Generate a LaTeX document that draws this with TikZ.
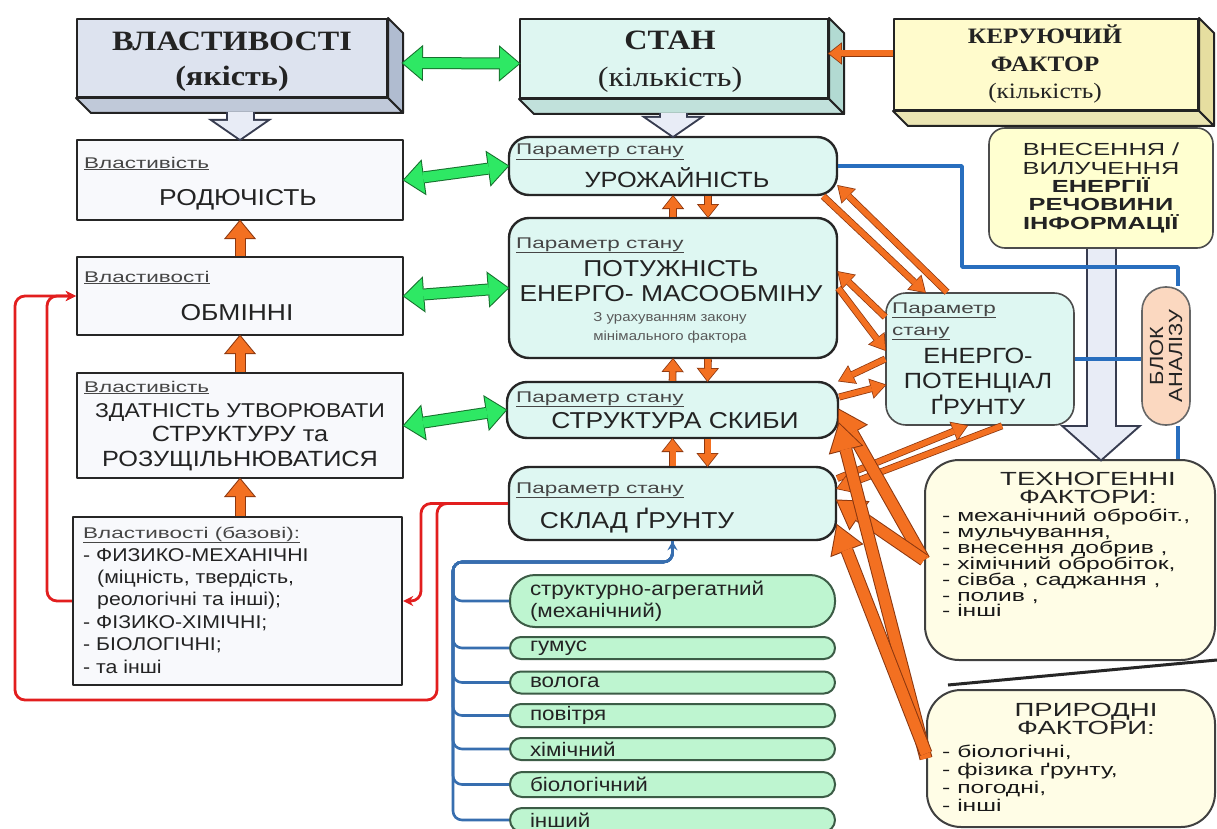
\documentclass[tikz,border=0pt]{standalone}
\usepackage{fontspec}
\setmainfont{Liberation Sans}[FakeStretch=1.15]
\newfontfamily\titlefont{Liberation Serif}[FakeStretch=1.15]
\newfontfamily\widefont{Liberation Sans}[FakeStretch=1.45]
\usepackage{xcolor}
\usepackage{tikz}
\usetikzlibrary{arrows.meta}

\definecolor{qualfront}{RGB}{221,227,239}
\definecolor{qualside}{RGB}{176,188,208}
\definecolor{statefront}{RGB}{222,246,241}
\definecolor{stateside}{RGB}{178,218,210}
\definecolor{ctrlfront}{RGB}{255,251,204}
\definecolor{ctrlside}{RGB}{230,222,160}
\definecolor{propfill}{RGB}{248,249,252}
\definecolor{paramfill}{RGB}{222,247,242}
\definecolor{factorfill}{RGB}{255,253,230}
\definecolor{inputfill}{RGB}{255,255,208}
\definecolor{analysisfill}{RGB}{251,216,192}
\definecolor{pillfill}{RGB}{190,245,208}
\definecolor{pilledge}{RGB}{60,92,70}
\definecolor{flowfill}{RGB}{243,112,33}
\definecolor{flowedge}{RGB}{140,55,15}
\definecolor{linkfill}{RGB}{46,232,100}
\definecolor{linkedge}{RGB}{22,112,45}
\definecolor{hollowfill}{RGB}{232,236,246}
\definecolor{hollowedge}{RGB}{55,60,80}
\definecolor{feedred}{RGB}{226,30,30}
\definecolor{wireblue}{RGB}{40,110,190}
\definecolor{treeblue}{RGB}{55,110,175}
\definecolor{inkgrey}{RGB}{35,35,35}
\definecolor{taggrey}{RGB}{70,70,70}

% side and bottom faces of a raised block
\newcommand{\slabdepth}[2]{%
  \filldraw[slabedge, fill=#2] (#1.north east) -- ++(15,15) -- ([shift={(15,15)}]#1.south east) -- (#1.south east) -- cycle;
  \filldraw[slabedge, fill=#2!80!white] (#1.south west) -- ([shift={(15,15)}]#1.south west) -- ([shift={(15,15)}]#1.south east) -- (#1.south east) -- cycle;
}

\tikzset{
  slab/.style={draw=inkgrey, line width=2pt, align=center, inner sep=0pt, text=inkgrey},
  slabedge/.style={draw=inkgrey, line width=2pt},
  slabtext/.style={align=center, inner sep=0pt, text=inkgrey},
  propbox/.style={draw=black!85, fill=propfill, line width=2.4pt, minimum width=326pt, inner sep=0pt},
  parambox/.style={draw=black!85, fill=paramfill, line width=2.4pt, rounded corners=20pt, inner sep=0pt},
  tagtext/.style={font=\widefont\fontsize{15.5}{22}\selectfont, text=taggrey, inner sep=0pt, align=left, anchor=base west},
  maintext/.style={font=\fontsize{23}{25}\selectfont, text=inkgrey, inner sep=0pt, align=center},
  listtext/.style={font=\fontsize{18.5}{22.4}\selectfont, text=inkgrey, inner sep=0pt, align=left, anchor=north west},
  notetext/.style={font=\fontsize{13}{19}\selectfont, text=black!65, inner sep=0pt, align=center},
  factorbox/.style={draw=black!75, fill=factorfill, line width=2pt, rounded corners=34pt, inner sep=0pt},
  factortitle/.style={font=\widefont\fontsize{19}{17.5}\selectfont, text=inkgrey, inner sep=0pt, align=center},
  factoritem/.style={font=\widefont\fontsize{17}{16}\selectfont, text=black!90, inner sep=0pt, anchor=base west},
  pill/.style={draw=pilledge, fill=pillfill, line width=2pt, inner sep=0pt, minimum width=325pt,
    text width=285pt, align=left, font=\fontsize{19.5}{22}\selectfont, text=inkgrey},
  % block arrows: a darker, slightly larger copy is laid underneath as the outline
  flowarrow/.style={draw=flowfill, line width=9pt, -{Triangle[length=17pt,width=28pt,line width=0pt]},
    preaction={draw=flowedge, line width=11pt, shorten >=-1.6pt, -{Triangle[length=19.6pt,width=32.3pt,line width=0pt]}}},
  flowsmall/.style={draw=flowfill, line width=6pt, -{Triangle[length=12pt,width=19pt,line width=0pt]},
    preaction={draw=flowedge, line width=7.6pt, shorten >=-1.3pt, -{Triangle[length=14.1pt,width=22.3pt,line width=0pt]}}},
  flowslant/.style={draw=flowfill, line width=5.5pt, -{Triangle[length=14pt,width=18pt,line width=0pt]},
    preaction={draw=flowedge, line width=7pt, shorten >=-1.4pt, -{Triangle[length=16.1pt,width=20.7pt,line width=0pt]}}},
  flowbig/.style={draw=flowfill, line width=11pt, -{Triangle[length=26pt,width=32pt,line width=0pt]},
    preaction={draw=flowedge, line width=13pt, shorten >=-1.9pt, -{Triangle[length=28.9pt,width=35.6pt,line width=0pt]}}},
  linkarrow/.style={draw=linkfill, line width=10pt,
    {Triangle[length=19pt,width=32pt,line width=0pt]}-{Triangle[length=19pt,width=32pt,line width=0pt]},
    preaction={draw=linkedge, line width=12pt, shorten <=-1.6pt, shorten >=-1.6pt,
    {Triangle[length=21.6pt,width=36.4pt,line width=0pt]}-{Triangle[length=21.6pt,width=36.4pt,line width=0pt]}}},
  hollowarrow/.style={draw=hollowfill, line width=25pt, -{Triangle[length=18pt,width=52pt,line width=0pt]},
    preaction={draw=hollowedge, line width=29pt, shorten >=-2.4pt, -{Triangle[length=22.4pt,width=64.8pt,line width=0pt]}}},
  hollowbig/.style={draw=hollowfill, line width=27pt, -{Triangle[length=32pt,width=72pt,line width=0pt]},
    preaction={draw=hollowedge, line width=31pt, shorten >=-2.7pt, -{Triangle[length=36.7pt,width=82.6pt,line width=0pt]}}},
  feedback/.style={draw=feedred, line width=2.8pt, rounded corners=10pt, -{Stealth[length=10pt,width=10pt]}},
  wire/.style={draw=wireblue, line width=3.6pt},
  treewire/.style={draw=treeblue, line width=2.6pt, rounded corners=9pt},
}

\begin{document}
\begin{tikzpicture}[x=1pt, y=-1pt, line join=round]
	\fill[white, use as bounding box] (0,0) rectangle (1217,829);

	% Top blocks
	\node[slab, fill=qualfront, minimum width=310pt, minimum height=78pt] (quality) at (232,58) {};
	\node[slabtext, font=\titlefont\bfseries\fontsize{28}{35}\selectfont] (qualitytext) at (232,62) {ВЛАСТИВОСТІ\\(якість)};
	\node[slab, fill=statefront, minimum width=308pt, minimum height=79pt] (state) at (674,58.5) {};
	\node[slabtext, font=\titlefont\fontsize{28}{37}\selectfont] (statetext) at (670,62) {\textbf{СТАН}\\(кількість)};
	\node[slab, fill=ctrlfront, minimum width=304pt, minimum height=91pt] (control) at (1046,64.5) {};
	\node[slabtext, font=\titlefont\fontsize{22}{27.5}\selectfont] (controltext) at (1045,64) {\textbf{КЕРУЮЧИЙ}\\\textbf{ФАКТОР}\\(кількість)};
	\slabdepth{quality}{qualside}
	\slabdepth{state}{stateside}
	\slabdepth{control}{ctrlside}

	% Properties column
	\node[propbox, minimum height=80pt] (fertility) at (240,180) {};
	\node[tagtext] (fertilitytag) at (84,168) {\underline{Властивість}};
	\node[maintext, anchor=base] (fertilitytext) at (238,205) {РОДЮЧІСТЬ};

	\node[propbox, minimum height=78pt] (exchange) at (240,296) {};
	\node[tagtext] (exchangetag) at (84,282) {\underline{Властивості}};
	\node[maintext, anchor=base] (exchangetext) at (237,320) {ОБМІННІ};

	\node[propbox, minimum height=105pt] (structability) at (240,425.5) {};
	\node[tagtext] (structabilitytag) at (84,392) {\underline{Властивість}};
	\node[maintext, font=\fontsize{22}{24.5}\selectfont] (structabilitytext) at (240,437)
	  {{\fontsize{20}{24.5}\selectfont ЗДАТНІСТЬ УТВОРЮВАТИ}\\СТРУКТУРУ та\\РОЗУЩІЛЬНЮВАТИСЯ};

	\node[propbox, minimum width=329pt, minimum height=168pt] (basic) at (237.5,601) {};
	\node[tagtext] (basictag) at (83,538) {\underline{Властивості (базові):}};
	\node[listtext] (basiclist) at (83,548) {- ФИЗИКО-МЕХАНІЧНІ\\
	  \hspace*{14pt}(міцність, твердість,\\
	  \hspace*{14pt}реологічні та інші);\\
	  - ФІЗИКО-ХІМІЧНІ;\\
	  - БІОЛОГІЧНІ;\\
	  - та інші};

	% State parameters
	\node[parambox, minimum width=328pt, minimum height=58pt] (yieldp) at (673,166) {};
	\node[tagtext] (yieldptag) at (516,155) {\underline{Параметр стану}};
	\node[maintext, anchor=base, font=\fontsize{22}{25}\selectfont] (yieldptext) at (677,188) {УРОЖАЙНІСТЬ};

	\node[parambox, minimum width=328pt, minimum height=140pt] (power) at (673,288) {};
	\node[tagtext] (powertag) at (516,248) {\underline{Параметр стану}};
	\node[maintext] (powertext) at (671,281) {ПОТУЖНІСТЬ\\ЕНЕРГО- МАСООБМІНУ};
	\node[notetext] (powernote) at (670,328) {З урахуванням закону\\мінімального фактора};

	\node[parambox, minimum width=331pt, minimum height=56pt] (furrow) at (672.5,410) {};
	\node[tagtext] (furrowtag) at (516,402) {\underline{Параметр стану}};
	\node[maintext, anchor=base] (furrowtext) at (675,428) {СТРУКТУРА СКИБИ};

	\node[parambox, minimum width=327pt, minimum height=73pt] (soilmix) at (672.5,503.5) {};
	\node[tagtext] (soilmixtag) at (516,493) {\underline{Параметр стану}};
	\node[maintext, anchor=base] (soilmixtext) at (637,528) {СКЛАД ҐРУНТУ};

	% Soil composition components
	\node[pill, rounded corners=25pt, minimum height=52pt] (agg) at (672.5,601) {структурно-агрегатний\\(механічний)};
	\node[pill, rounded corners=11pt, minimum height=22pt] (humus) at (672.5,648) {гумус};
	\node[pill, rounded corners=11pt, minimum height=22pt] (moisture) at (672.5,682.5) {волога};
	\node[pill, rounded corners=11pt, minimum height=23pt] (air) at (672.5,715.5) {повітря};
	\node[pill, rounded corners=11pt, minimum height=22pt] (chem) at (672.5,749) {хімічний};
	\node[pill, rounded corners=12pt, minimum height=25pt] (bio) at (672.5,784.5) {біологічний};
	\node[pill, rounded corners=12pt, minimum height=24pt] (other) at (672.5,820) {інший};

	% Energy potential, input, analysis
	\node[parambox, draw=black!70, line width=1.6pt, minimum width=188pt, minimum height=132pt] (energy) at (980,359) {};
	\node[tagtext] (energytag) at (892,335) {\underline{Параметр}\\\underline{стану}};
	\node[maintext, font=\fontsize{22}{25.5}\selectfont] (energytext) at (978,381) {ЕНЕРГО-\\ПОТЕНЦІАЛ\\ҐРУНТУ};

	\node[draw=black!70, fill=inputfill, line width=1.6pt, rounded corners=16pt, minimum width=224pt,
	  minimum height=120pt, inner sep=0pt, align=center, text=inkgrey,
	  font=\widefont\fontsize{17.5}{18.3}\selectfont] (input) at (1101,188)
	  {ВНЕСЕННЯ /\\ВИЛУЧЕННЯ\\\textbf{ЕНЕРГІЇ}\\\textbf{РЕЧОВИНИ}\\\textbf{ІНФОРМАЦІЇ}};

	\node[draw=black!60, fill=analysisfill, line width=1.6pt, rounded corners=23.5pt, minimum width=48pt,
	  minimum height=138pt, inner sep=0pt] (analysis) at (1166,356) {};
	\node[font=\fontsize{19}{19}\selectfont, text=inkgrey, rotate=90, align=center, inner sep=0pt]
	  (analysislabel) at (analysis.center) {БЛОК\\АНАЛІЗУ};

	% Factors
	\node[factorbox, minimum width=290pt, minimum height=200pt] (techno) at (1070,560) {};
	\node[factortitle] (technotitle) at (1088,488) {ТЕХНОГЕННІ\\ФАКТОРИ:};
	\foreach \item [count=\i] in {{- механічний обробіт.,}, {- мульчування,}, {- внесення добрив ,},
	    {- хімічний обробіток,}, {- сівба , саджання ,}, {- полив ,}, {- інші}}
	  \node[factoritem] (technoitem\i) at (942,{521.5+15.9*(\i-1)}) {\item};

	\node[factorbox, minimum width=288pt, minimum height=137pt] (natural) at (1071,758.5) {};
	\node[factortitle] (naturaltitle) at (1086,719) {ПРИРОДНІ\\ФАКТОРИ:};
	\foreach \item [count=\i] in {{- біологічні,}, {- фізика ґрунту,}, {- погодні,}, {- інші}}
	  \node[factoritem] (naturalitem\i) at (942,{757.5+18*(\i-1)}) {\item};

	\draw[line width=3pt, draw=black!85] (948,685) -- (1217,660);

	% Block arrows from the top
	\draw[hollowarrow, shorten <=14pt] (quality.south -| fertility.north) -- (fertility.north);
	\draw[hollowarrow, shorten <=14pt] (state.south -| yieldp.north) -- (yieldp.north);
	\draw[hollowbig] (input.south) -- (input.south |- techno.north);

	% Analysis wiring
	\draw[wire] (yieldp.east) -| (962,267) -| ([xshift=12pt]analysis.north);
	\draw[wire] (energy.east) -- (energy.east -| analysis.west);
	\draw[wire] ([xshift=12pt]analysis.south) -- ([xshift=12pt]analysis.south |- techno.north);

	% Quality <-> quantity links
	\draw[linkarrow] ([xshift=15pt,yshift=-5pt]quality.east) -- ([yshift=-5pt]state.west);
	\draw[linkarrow] (fertility.east) -- (yieldp.west);
	\draw[linkarrow] (exchange.east) -- (power.west);
	\draw[linkarrow] (structability.east) -- (furrow.west);

	% Flows between properties
	\draw[flowarrow] (exchange.north) -- (fertility.south);
	\draw[flowarrow] (structability.north) -- (exchange.south);
	\draw[flowarrow] (basic.north -| structability.south) -- (structability.south);

	% Flows between state parameters
	\draw[flowsmall] ([yshift=11pt]control.west) -- ([yshift=5pt]state.east);
	\draw[flowsmall] (power.north) -- (yieldp.south);
	\draw[flowsmall] ([xshift=35pt]yieldp.south) -- ([xshift=35pt]power.north);
	\draw[flowsmall] (furrow.north) -- (power.south);
	\draw[flowsmall] ([xshift=35pt]power.south) -- ([xshift=35pt]furrow.north);
	\draw[flowsmall] (soilmix.north) -- (furrow.south);
	\draw[flowsmall] ([xshift=35pt]furrow.south) -- ([xshift=35pt]soilmix.north);

	% Exchange with the energy potential
	\draw[flowslant] ([xshift=-33pt]energy.north) -- ([yshift=-20pt]yieldp.east);
	\draw[flowslant] ([xshift=-15pt]yieldp.south east) -- ([xshift=-55pt]energy.north);
	\draw[flowslant] ([yshift=42pt]energy.west) -- ([yshift=16pt]power.east);
	\draw[flowslant] (power.east) -- ([yshift=9pt]energy.west);
	\draw[flowslant] (energy.west) -- (furrow.north east);
	\draw[flowslant] ([yshift=13pt]furrow.east) -- ([yshift=-26pt]energy.west);
	\draw[flowslant] ([yshift=25pt]soilmix.east) -- ([xshift=-13pt]energy.south);
	\draw[flowslant] ([xshift=22pt]energy.south) -- ([yshift=15pt]soilmix.east);

	% Factor influence
	\draw[flowbig] (techno.west) -- (furrow.east);
	\draw[flowbig] (techno.west) -- ([yshift=3pt]soilmix.east);
	\draw[flowbig] (natural.west) -- ([yshift=-14pt]furrow.east);
	\draw[flowbig] ([yshift=5pt]natural.west) -- ([yshift=-22pt]soilmix.east);

	% Soil composition tree
	\coordinate (trunk) at (453,562);
	\draw[treewire, {Stealth[length=9pt,width=10pt]}-] (soilmix.south) |- (trunk) |- (agg.west);
	\foreach \p in {humus,moisture,air,chem,bio,other}
	  \draw[treewire] (soilmix.south) |- (trunk) |- (\p.west);

	% Feedback loops
	\draw[feedback] (soilmix.west) -| (437,700) -- (15,700) |- (exchange.west);
	\draw[feedback] (soilmix.west) -| (421,601) -- (basic.east);
	\draw[feedback] (basic.west) -| (47,296) -- (exchange.west);
\end{tikzpicture}
\end{document}
